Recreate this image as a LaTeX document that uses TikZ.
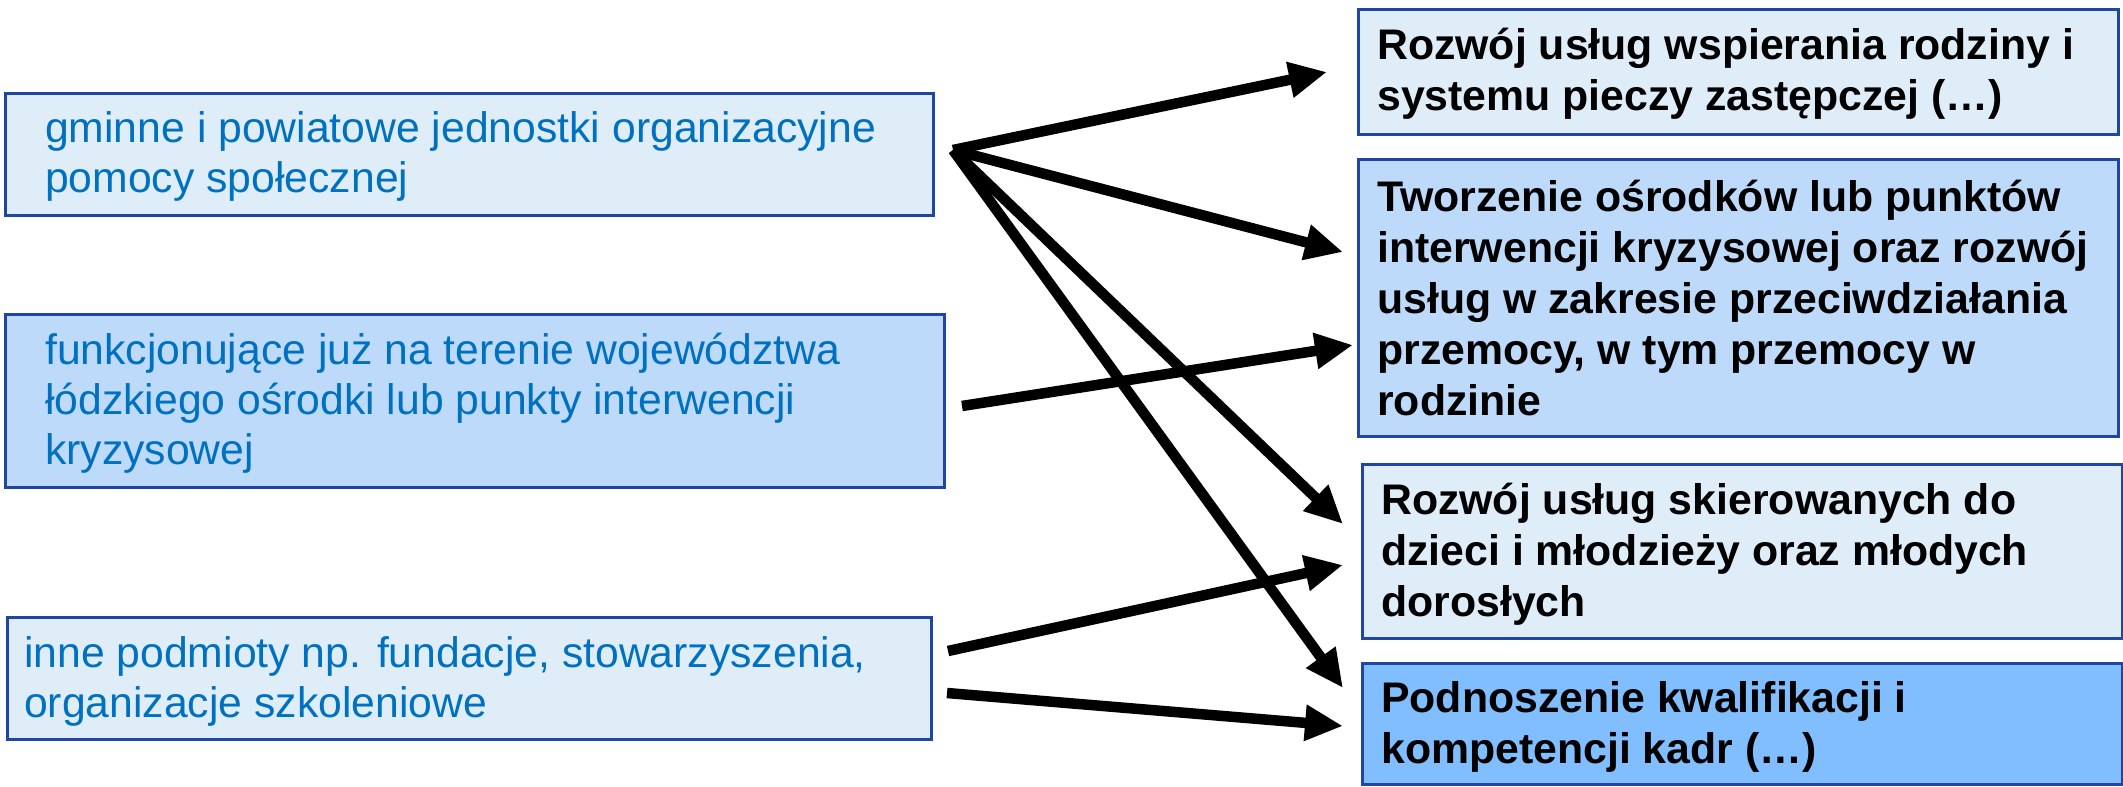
\documentclass[tikz,border=0pt]{standalone}
\usepackage{fontspec}
\setmainfont{Liberation Sans}
\usetikzlibrary{arrows.meta,calc}
\definecolor{lightfill}{HTML}{DFEDF8}
\definecolor{midfill}{HTML}{BDDAFB}
\definecolor{strongfill}{HTML}{80BEFF}
\definecolor{boxborder}{HTML}{1F45A5}
\definecolor{lefttext}{HTML}{0070C0}
\tikzset{
  box/.style={draw=boxborder, line width=2.5pt, rectangle, inner sep=0pt, anchor=north west},
  lefttxt/.style={anchor=west, align=left, inner sep=0pt, text=lefttext, font=\fontsize{42.7}{50}\selectfont},
  righttxt/.style={anchor=west, align=left, inner sep=0pt, text=black, font=\fontsize{42.8}{51}\selectfont\bfseries},
  bigarrow/.style={line width=10.5pt, -{Triangle[length=38pt,width=34pt]}}
}
\begin{document}
\begin{tikzpicture}[x=1pt,y=-1pt]
\useasboundingbox (0,0) rectangle (2123,787);
% left boxes
\node[box, fill=lightfill, minimum width=928pt, minimum height=122pt] (l1) at (4,92) {};
\node[lefttxt] (l1t) at ($(l1.west)+(41,2)$) {gminne i powiatowe jednostki organizacyjne\\pomocy społecznej};
\node[box, fill=midfill, minimum width=939pt, minimum height=173pt] (l2) at (4,313) {};
\node[lefttxt] (l2t) at ($(l2.west)+(41,2)$) {funkcjonujące już na terenie województwa\\łódzkiego ośrodki lub punkty interwencji\\kryzysowej};
\node[box, fill=lightfill, minimum width=924pt, minimum height=122pt] (l3) at (6,616) {};
\node[lefttxt] (l3t) at ($(l3.west)+(18,3)$) {inne podmioty np. fundacje, stowarzyszenia,\\organizacje szkoleniowe};
% right boxes
\node[box, fill=lightfill, minimum width=760pt, minimum height=125pt] (r1) at (1357,8) {};
\node[righttxt] (r1t) at ($(r1.west)+(20,2)$) {Rozwój usług wspierania rodziny i\\systemu pieczy zastępczej (…)};
\node[box, fill=midfill, minimum width=760pt, minimum height=277pt] (r2) at (1357,158) {};
\node[righttxt] (r2t) at ($(r2.west)+(20,0)$) {Tworzenie ośrodków lub punktów\\interwencji kryzysowej oraz rozwój\\usług w zakresie przeciwdziałania\\przemocy, w tym przemocy w\\rodzinie};
\node[box, fill=lightfill, minimum width=760pt, minimum height=174pt] (r3) at (1361,463) {};
\node[righttxt] (r3t) at ($(r3.west)+(20,3)$) {Rozwój usług skierowanych do\\dzieci i młodzieży oraz młodych\\dorosłych};
\node[box, fill=strongfill, minimum width=760pt, minimum height=121pt] (r4) at (1361,662) {};
\node[righttxt] (r4t) at ($(r4.west)+(20,3)$) {Podnoszenie kwalifikacji i\\kompetencji kadr (…)};
% connector ends
\coordinate (s1) at (953,150);
\coordinate (s2) at (962,406);
\coordinate (s3a) at (948,651);
\coordinate (s3b) at (947,693);
\coordinate (t1) at (1327,72);
\coordinate (t2a) at (1343,252);
\coordinate (t2b) at (1353,345);
\coordinate (t3a) at (1343,524);
\coordinate (t3b) at (1343,565);
\coordinate (t4a) at (1343,688);
\coordinate (t4b) at (1343,726);
% arrows
\draw[bigarrow] (s1) -- (t1);
\draw[bigarrow] (s1) -- (t2a);
\draw[bigarrow] (s1) -- (t3a);
\draw[bigarrow] (s1) -- (t4a);
\draw[bigarrow] (s2) -- (t2b);
\draw[bigarrow] (s3a) -- (t3b);
\draw[bigarrow] (s3b) -- (t4b);
\end{tikzpicture}
\end{document}
